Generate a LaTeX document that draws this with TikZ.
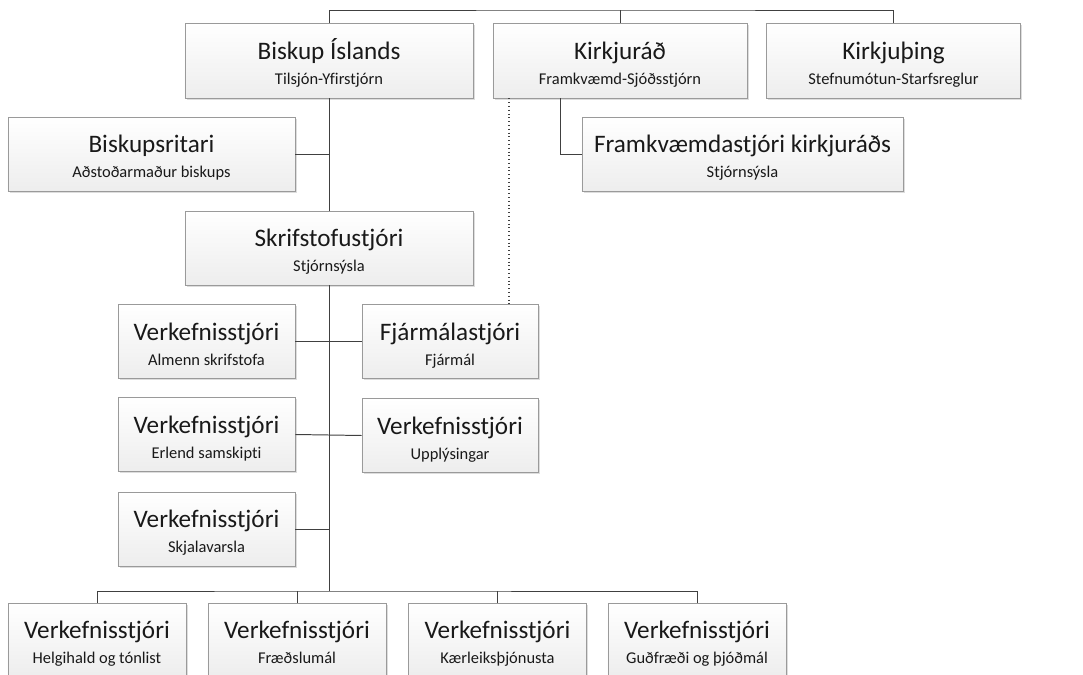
\documentclass[tikz,border=0pt]{standalone}
\usepackage{fontspec}
\setmainfont{Carlito}[Ligatures=NoCommon]
\usepackage{tikz}
\usetikzlibrary{positioning}
\usetikzlibrary{shadows}

\definecolor{linegray}{HTML}{404040}
\definecolor{boxline}{HTML}{9A9A9A}
\newcommand{\boxtitle}[1]{{\fontsize{17.9}{17.8}\selectfont\rule{0pt}{19pt}#1}}
\newcommand{\boxsub}[1]{\rule[-3.2pt]{0pt}{3.2pt}#1}

\tikzset{
  orgbox/.style={draw=boxline, line width=0.5pt, top color=white, bottom color=gray!14,
    drop shadow={shadow xshift=1.2pt, shadow yshift=-1.2pt, fill=gray!45, opacity=0.6},
    align=center, inner sep=0pt, minimum height=1.85cm, text=black!90,
    font=\fontsize{11.7}{17.8}\selectfont},
  link/.style={draw=linegray, line width=0.7pt}
}

\begin{document}
\begin{tikzpicture}[x=0.025cm, y=-0.025cm]
\useasboundingbox (0,0) rectangle (1083,675);
% top row
\node[orgbox, minimum width=7.2cm, minimum height=1.875cm] (bishop) at (329,60.5) {\boxtitle{Biskup Íslands}\\\boxsub{Tilsjón-Yfirstjórn}};
\node[orgbox, minimum width=6.35cm, minimum height=1.875cm] (council) at (620,60.5) {\boxtitle{Kirkjuráð}\\\boxsub{Framkvæmd-Sjóðsstjórn}};
\node[orgbox, minimum width=6.35cm, minimum height=1.875cm] (synod) at (893.5,60.5) {\boxtitle{Kirkjuþing}\\\boxsub{Stefnumótun-Starfsreglur}};
% second level
\node[orgbox, minimum width=7.175cm] (secretary) at (151.5,154) {\boxtitle{Biskupsritari}\\\boxsub{Aðstoðarmaður biskups}};
\node[orgbox, minimum width=8.025cm] (director) at (742.5,154) {\boxtitle{Framkvæmdastjóri kirkjuráðs}\\\boxsub{Stjórnsýsla}};
\node[orgbox, minimum width=7.2cm] (office) at (329,248) {\boxtitle{Skrifstofustjóri}\\\boxsub{Stjórnsýsla}};
% side columns
\node[orgbox, minimum width=4.425cm] (general) at (206.5,341.5) {\boxtitle{Verkefnisstjóri}\\\boxsub{Almenn skrifstofa}};
\node[orgbox, minimum width=4.425cm] (foreign) at (206.5,434.5) {\boxtitle{Verkefnisstjóri}\\\boxsub{Erlend samskipti}};
\node[orgbox, minimum width=4.425cm] (archive) at (206.5,529) {\boxtitle{Verkefnisstjóri}\\\boxsub{Skjalavarsla}};
\node[orgbox, minimum width=4.4cm] (finance) at (450,341.5) {\boxtitle{Fjármálastjóri}\\\boxsub{Fjármál}};
\node[orgbox, minimum width=4.4cm] (info) at (450,435.5) {\boxtitle{Verkefnisstjóri}\\\boxsub{Upplýsingar}};
% bottom row
\node[orgbox, minimum width=4.45cm] (liturgy) at (97,640) {\boxtitle{Verkefnisstjóri}\\\boxsub{Helgihald og tónlist}};
\node[orgbox, minimum width=4.45cm] (education) at (297,640) {\boxtitle{Verkefnisstjóri}\\\boxsub{Fræðslumál}};
\node[orgbox, minimum width=4.45cm] (diakonia) at (497.5,640) {\boxtitle{Verkefnisstjóri}\\\boxsub{Kærleiksþjónusta}};
\node[orgbox, minimum width=4.45cm] (theology) at (697,640) {\boxtitle{Verkefnisstjóri}\\\boxsub{Guðfræði og þjóðmál}};

\coordinate (topbus) at (620,10);
\coordinate (bottombus) at (329,591);
\coordinate (dirjoin) at (560,0);
\coordinate (dotjoin) at (509,0);

\draw[link] (bishop.north) |- (topbus) -| (synod.north);
\draw[link] (council.north) -- (council.north |- topbus);
\draw[link] (bishop.south) -- (office.north);
\draw[link] (secretary.east) -- (secretary.east -| bishop.south);
\draw[link] (council.south -| dirjoin) |- (director.west);
\draw[link, dotted, line width=1pt] (council.south -| dotjoin) -- (finance.north -| dotjoin);
\draw[link] (office.south) -- (bottombus);
\draw[link] (general.east) -- (finance.west);
\draw[link] (foreign.east) -- (info.west);
\draw[link] (archive.east) -- (archive.east -| office.south);
\draw[link] (liturgy.north) |- (bottombus) -| (theology.north);
\draw[link] (education.north) -- (education.north |- bottombus);
\draw[link] (diakonia.north) -- (diakonia.north |- bottombus);
\end{tikzpicture}
\end{document}
